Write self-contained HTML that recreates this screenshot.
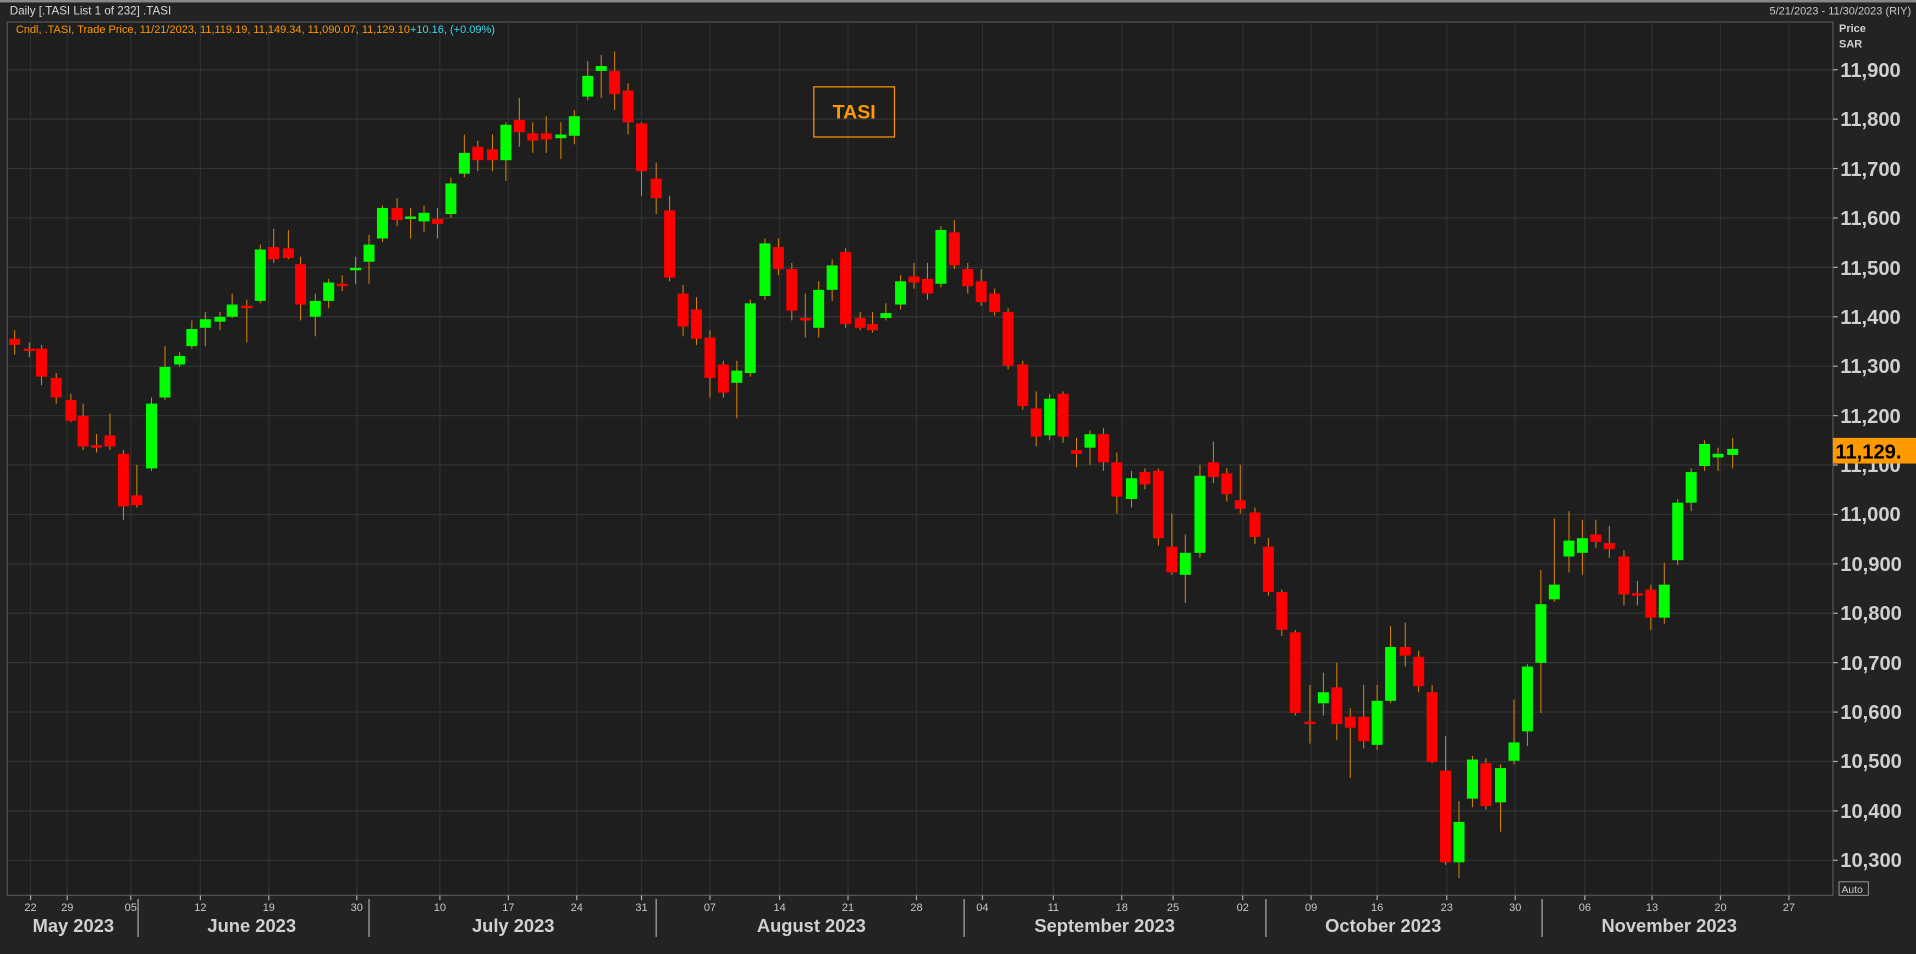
<!DOCTYPE html>
<html><head><meta charset="utf-8"><style>
html,body{margin:0;padding:0;background:#232323;overflow:hidden}
svg{display:block}
text{font-family:"Liberation Sans","DejaVu Sans",sans-serif}
</style></head><body>
<svg id="c" width="1916" height="954" viewBox="0 0 1568 780" preserveAspectRatio="none" xmlns="http://www.w3.org/2000/svg">
<rect x="0" y="0" width="1568" height="780" fill="#232323"/>
<rect x="0" y="0" width="1568" height="2" fill="#888"/>
<rect x="6" y="18" width="1494" height="714" fill="#1e1e1e" stroke="#555" stroke-width="1"/>
<g id="grid"></g>
<g id="candles"></g>
<text x="8" y="12" font-size="9.5" fill="#d8d8d8">Daily [.TASI List 1 of 232] .TASI</text>
<text x="1564" y="12" font-size="9" fill="#c8c8c8" text-anchor="end">5/21/2023 - 11/30/2023 (RIY)</text>
<text x="13" y="27" font-size="9" fill="#ff9900">Cndl, .TASI, Trade Price,  11/21/2023, 11,119.19, 11,149.34, 11,090.07, 11,129.10<tspan fill="#33ddee">+10.16, (+0.09%)</tspan></text>
<text x="1505" y="26" font-size="9" font-weight="bold" fill="#d0d0d0">Price</text>
<text x="1505" y="39" font-size="9" font-weight="bold" fill="#d0d0d0">SAR</text>
<g font-size="16.5" font-weight="bold" fill="#d0d0d0" id="ylab">
<text x="1506" y="63">11,900</text><text x="1506" y="103">11,800</text><text x="1506" y="144">11,700</text><text x="1506" y="184">11,600</text><text x="1506" y="225">11,500</text><text x="1506" y="265">11,400</text><text x="1506" y="305">11,300</text><text x="1506" y="346">11,200</text><text x="1506" y="386">11,100</text><text x="1506" y="426">11,000</text><text x="1506" y="467">10,900</text><text x="1506" y="507">10,800</text><text x="1506" y="548">10,700</text><text x="1506" y="588">10,600</text><text x="1506" y="628">10,500</text><text x="1506" y="669">10,400</text><text x="1506" y="709">10,300</text>
</g>
<rect x="1500" y="358" width="68" height="21" fill="#ff9900"/>
<text x="1502" y="375" font-size="16.5" font-weight="bold" fill="#000">11,129.</text>
<rect x="1505" y="721" width="24" height="11" fill="none" stroke="#aaa" stroke-width="0.7"/>
<text x="1507" y="730" font-size="8.5" fill="#ccc">Auto</text>
<rect x="666" y="71" width="66" height="41" fill="none" stroke="#ff9900" stroke-width="1"/>
<text x="699" y="97" font-size="16" font-weight="bold" fill="#ff9900" text-anchor="middle">TASI</text>
<g font-size="9" fill="#c8c8c8" text-anchor="middle">
<text x="25" y="745">22</text><text x="55" y="745">29</text><text x="107" y="745">05</text><text x="164" y="745">12</text><text x="220" y="745">19</text><text x="292" y="745">30</text><text x="360" y="745">10</text><text x="416" y="745">17</text><text x="472" y="745">24</text><text x="525" y="745">31</text><text x="581" y="745">07</text><text x="638" y="745">14</text><text x="694" y="745">21</text><text x="750" y="745">28</text><text x="804" y="745">04</text><text x="862" y="745">11</text><text x="918" y="745">18</text><text x="960" y="745">25</text><text x="1017" y="745">02</text><text x="1073" y="745">09</text><text x="1127" y="745">16</text><text x="1184" y="745">23</text><text x="1240" y="745">30</text><text x="1297" y="745">06</text><text x="1352" y="745">13</text><text x="1408" y="745">20</text><text x="1464" y="745">27</text>
</g>
<g font-size="15" font-weight="bold" fill="#d0d0d0" text-anchor="middle">
<text x="60" y="762">May 2023</text><text x="206" y="762">June 2023</text><text x="420" y="762">July 2023</text><text x="664" y="762">August 2023</text><text x="904" y="762">September 2023</text><text x="1132" y="762">October 2023</text><text x="1366" y="762">November 2023</text>
</g>
<g stroke="#aaa" stroke-width="1">
<line x1="113" y1="735" x2="113" y2="766"/><line x1="302" y1="735" x2="302" y2="766"/><line x1="537" y1="735" x2="537" y2="766"/><line x1="789" y1="735" x2="789" y2="766"/><line x1="1036" y1="735" x2="1036" y2="766"/><line x1="1262" y1="735" x2="1262" y2="766"/>
</g>
</svg>
<script>
var ns="http://www.w3.org/2000/svg";
function el(p,t,a){var e=document.createElementNS(ns,t);for(var k in a)e.setAttribute(k,a[k]);p.appendChild(e);return e;}
var g=document.getElementById('grid');
for(var i=0;i<17;i++){var y=57+i*40.4;el(g,'line',{x1:6,x2:1500,y1:y,y2:y,stroke:'#333','stroke-width':1});el(g,'line',{x1:1500,x2:1504,y1:y,y2:y,stroke:'#aaa','stroke-width':1});}
[25,55,107,164,220,292,360,416,472,525,581,638,694,750,804,862,918,960,1017,1073,1127,1184,1240,1297,1352,1408,1464].forEach(function(x){el(g,'line',{x1:x,x2:x,y1:18,y2:732,stroke:'#303030','stroke-width':1});el(g,'line',{x1:x,x2:x,y1:732,y2:736,stroke:'#aaa','stroke-width':1});});
// x, bodyTop, bodyBot, wickTop, wickBot, color(1 green 0 red)
var d=[[12,277,282,270,290,0],[24,285,287,280,292,0],[34,285,308,282,315,0],[46,309,325,305,330,0],[58,327,344,322,345,0],[68,340,365,330,368,0],[79,364,366,355,370,0],[90,356,365,338,368,0],[101,371,414,368,425,0],[112,405,413,380,415,0],[124,330,383,325,385,1],[135,300,325,283,327,1],[147,291,298,288,300,1],[157,269,283,262,285,1],[168,261,268,255,283,1],[180,259,263,255,270,1],[190,249,259,240,260,1],[202,250,252,245,280,0],[213,204,246,200,248,1],[224,202,212,187,215,0],[236,203,211,188,212,0],[246,216,249,210,262,0],[258,246,259,240,275,1],[269,231,246,228,252,1],[280,232,234,225,238,0],[291,219,221,210,232,1],[302,200,214,192,232,1],[313,170,195,168,198,1],[325,170,180,162,185,0],[336,177,179,170,195,1],[347,174,181,168,190,1],[358,179,183,170,195,0],[369,150,175,145,178,1],[380,125,142,110,145,1],[391,120,131,115,140,0],[403,122,131,110,140,0],[414,102,131,100,148,1],[425,98,108,80,120,0],[436,109,115,100,125,0],[447,109,114,95,125,0],[459,110,113,100,130,1],[470,95,111,90,118,1],[481,62,79,50,82,1],[492,54,58,45,80,1],[503,58,77,42,90,0],[514,74,100,68,110,0],[525,101,140,100,160,0],[537,146,162,133,175,0],[548,172,227,160,230,0],[559,240,267,233,275,0],[570,253,277,243,282,0],[581,276,309,270,325,0],[592,298,321,295,325,0],[603,303,313,295,342,1],[614,248,305,245,308,1],[626,199,242,195,245,1],[637,202,220,195,225,0],[648,220,254,215,262,0],[659,260,262,240,276,0],[670,237,268,230,276,1],[681,217,237,212,246,1],[692,206,265,203,268,0],[704,260,268,255,270,0],[714,265,270,255,272,0],[725,256,260,248,262,1],[737,230,249,225,253,1],[748,226,231,215,236,0],[759,228,240,215,245,0],[770,188,232,185,235,1],[781,190,217,180,220,0],[792,220,234,215,240,0],[803,230,247,220,250,0],[814,240,255,236,258,0],[825,255,299,252,302,0],[837,298,332,295,335,0],[848,334,357,320,365,0],[859,326,356,322,360,1],[870,322,357,320,362,0],[881,368,371,358,382,0],[892,355,366,352,380,1],[903,355,378,350,385,0],[914,378,406,370,420,0],[926,391,408,385,415,1],[937,386,396,383,400,0],[948,385,440,383,446,0],[959,447,468,420,470,0],[970,452,470,437,493,1],[982,389,452,380,456,1],[993,378,390,361,395,0],[1004,387,404,383,410,0],[1015,409,416,380,420,0],[1027,419,439,415,445,0],[1038,447,484,440,487,0],[1049,484,515,482,520,0],[1060,517,583,515,585,0],[1072,590,592,560,608,0],[1083,566,575,550,585,1],[1094,562,592,542,605,0],[1105,586,595,579,636,0],[1116,586,606,560,612,0],[1127,573,609,560,613,1],[1138,529,573,512,575,1],[1150,529,536,509,545,0],[1161,537,561,532,566,0],[1172,566,623,560,624,0],[1183,630,705,602,707,0],[1194,672,705,655,718,1],[1205,621,653,618,660,1],[1216,624,659,620,662,0],[1228,628,656,625,680,1],[1239,607,622,572,625,1],[1250,545,598,543,610,1],[1261,494,542,466,583,1],[1272,478,490,424,492,1],[1284,442,455,418,468,1],[1295,440,452,425,470,1],[1306,437,443,425,448,0],[1317,444,449,430,456,0],[1329,455,486,450,495,0],[1340,485,487,475,495,0],[1351,482,505,478,515,0],[1362,478,505,460,510,1],[1373,411,458,408,462,1],[1384,386,411,383,418,1],[1395,363,381,360,385,1],[1406,371,374,366,385,1],[1418,367,372,358,383,1]];
var c=document.getElementById('candles');
d.forEach(function(k){el(c,'line',{x1:k[0],x2:k[0],y1:k[3],y2:k[4],stroke:'#e08a00','stroke-width':0.8});
var h=Math.max(2,k[2]-k[1]);el(c,'rect',{x:k[0]-4.5,y:k[1],width:9,height:h,fill:k[5]?'#00ff00':'#ff0000'});});
</script>
</body></html>
